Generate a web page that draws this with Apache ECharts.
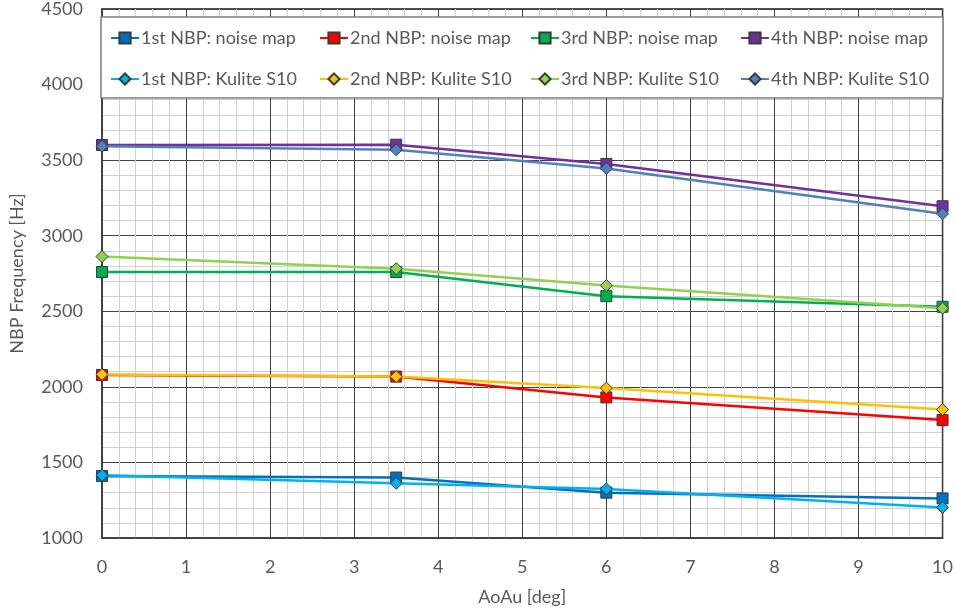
<!DOCTYPE html>
<html>
<head>
<meta charset="utf-8">
<script src="https://cdn.jsdelivr.net/npm/echarts@6/dist/echarts.min.js"></script>
<style>
html,body{margin:0;padding:0;background:#fff;}
#chart{width:956px;height:613px;}
</style>
</head>
<body>
<div id="chart"></div>
<script>
// AoAu angles [deg]
const aoau = [0, 3.5, 6, 10];
// NBP frequencies [Hz]
const nbp1Noise  = [1410, 1400, 1300, 1262];
const nbp2Noise  = [2078, 2068, 1930, 1780];
const nbp3Noise  = [2760, 2760, 2600, 2530];
const nbp4Noise  = [3600, 3602, 3475, 3195];
const nbp1Kulite = [1415, 1362, 1325, 1202];
const nbp2Kulite = [2082, 2068, 1992, 1850];
const nbp3Kulite = [2862, 2782, 2670, 2520];
const nbp4Kulite = [3592, 3568, 3445, 3145];

const seriesNames = [
  '1st NBP: noise map', '2nd NBP: noise map', '3rd NBP: noise map', '4th NBP: noise map',
  '1st NBP: Kulite S10', '2nd NBP: Kulite S10', '3rd NBP: Kulite S10', '4th NBP: Kulite S10'
];
const seriesData = [nbp1Noise, nbp2Noise, nbp3Noise, nbp4Noise, nbp1Kulite, nbp2Kulite, nbp3Kulite, nbp4Kulite];
const seriesColors = ['#0070C0', '#FF0000', '#00B050', '#7030A0', '#00B0F0', '#FFC000', '#92D050', '#4F81BD'];

const FONT = 'Lato';
const TXT = '#595959';

const series = seriesNames.map((name, i) => ({
  name: name,
  type: 'line',
  data: aoau.map((x, j) => [x, seriesData[i][j]]),
  symbol: i < 4 ? 'rect' : 'diamond',
  symbolSize: i < 4 ? 11 : 12,
  lineStyle: { color: seriesColors[i], width: 2.5 },
  itemStyle: { color: seriesColors[i], borderColor: '#3a3a3a', borderWidth: 1 },
  z: 3 + i,
  animation: false
}));

const colX = [110, 319, 530, 740];
const rowY = [29, 70];
const legends = seriesNames.map((name, i) => ({
  data: [name],
  left: colX[i % 4],
  top: rowY[Math.floor(i / 4)],
  itemWidth: 28,
  itemHeight: 14,
  itemGap: 0,
  padding: 0,
  z: 10,
  textStyle: { fontFamily: FONT, fontSize: 18, color: TXT, padding: [0, 0, 0, -3] }
}));

const chart = echarts.init(document.getElementById('chart'), null, { renderer: 'canvas' });
chart.setOption({
  backgroundColor: '#fff',
  animation: false,
  textStyle: { fontFamily: FONT },
  grid: { left: 98, right: 12, top: 8, bottom: 75, show: true, borderColor: '#1a1a1a', borderWidth: 1.5, backgroundColor: 'transparent' },
  legend: legends,
  graphic: [{
    type: 'rect',
    shape: { x: 101, y: 17, width: 842, height: 81 },
    style: { fill: '#fff', stroke: '#7f7f7f', lineWidth: 1.5 },
    z: 8
  }],
  xAxis: {
    type: 'value', min: 0, max: 10, interval: 1,
    name: 'AoAu [deg]', nameLocation: 'middle', nameGap: 50,
    nameTextStyle: { fontFamily: FONT, fontSize: 18, color: TXT },
    axisLine: { show: true, lineStyle: { color: '#404040', width: 1.5 } },
    axisTick: { show: false },
    axisLabel: { fontFamily: FONT, fontSize: 18, color: TXT, margin: 20 },
    splitLine: { show: true, lineStyle: { color: '#404040', width: 1 } },
    minorTick: { show: false, splitNumber: 5 },
    minorSplitLine: { show: true, lineStyle: { color: '#d0d0d0', width: 1 } }
  },
  yAxis: {
    type: 'value', min: 1000, max: 4500, interval: 500,
    name: 'NBP Frequency [Hz]', nameLocation: 'middle', nameGap: 76,
    nameTextStyle: { fontFamily: FONT, fontSize: 18, color: TXT },
    axisLine: { show: true, lineStyle: { color: '#404040', width: 1.5 } },
    axisTick: { show: false },
    axisLabel: { fontFamily: FONT, fontSize: 18, color: TXT, margin: 19, formatter: v => String(v) },
    splitLine: { show: true, lineStyle: { color: '#404040', width: 1 } },
    minorTick: { show: false, splitNumber: 5 },
    minorSplitLine: { show: true, lineStyle: { color: '#d0d0d0', width: 1 } }
  },
  series: series
});
</script>
</body>
</html>
